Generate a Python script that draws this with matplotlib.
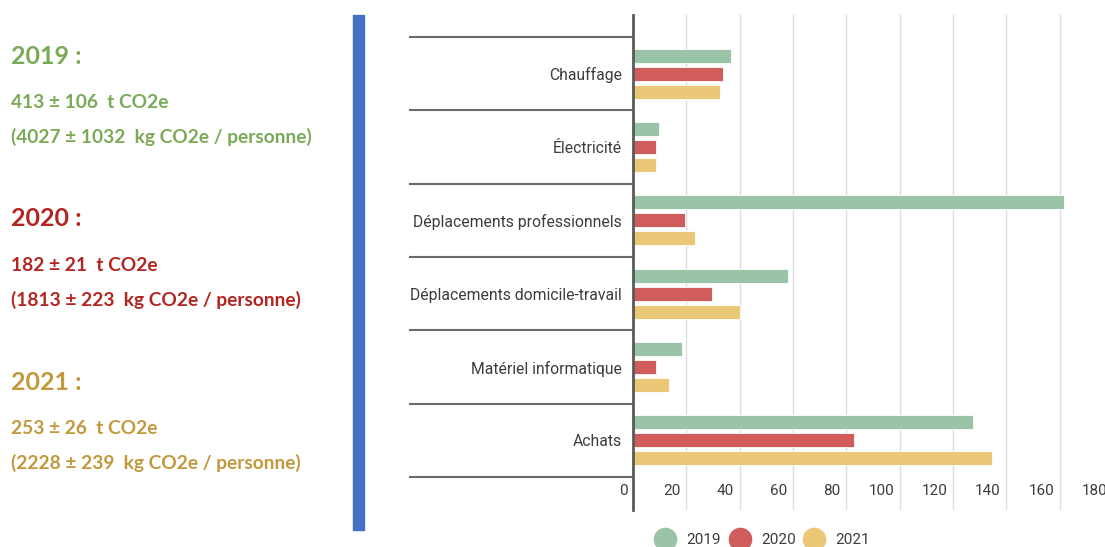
import matplotlib
matplotlib.use("Agg")
import matplotlib.pyplot as plt
from matplotlib.lines import Line2D
from matplotlib.patches import Rectangle
import matplotlib.transforms as mtransforms

categories = ["Chauffage", "Électricité", "Déplacements professionnels",
              "Déplacements domicile-travail", "Matériel informatique", "Achats"]
years = ["2019", "2020", "2021"]
v2019 = [36.6, 9.6, 161.7, 58.3, 18.5, 127.5]
v2020 = [33.7, 8.6, 19.5, 29.8, 8.6, 82.8]
v2021 = [32.5, 8.6, 23.4, 40.3, 13.5, 134.7]
series = [v2019, v2020, v2021]
bar_colors = ["#9AC4A8", "#D05C5C", "#EAC877"]
xticks = [0, 20, 40, 60, 80, 100, 120, 140, 160, 180]

summary_titles = ["2019 :", "2020 :", "2021 :"]
summary_totals = ["413 ± 106  t CO2e", "182 ± 21  t CO2e", "253 ± 26  t CO2e"]
summary_per_person = ["(4027 ± 1032  kg CO2e / personne)",
                      "(1813 ± 223  kg CO2e / personne)",
                      "(2228 ± 239  kg CO2e / personne)"]
summary_colors = ["#7BAA56", "#B32520", "#C1993B"]

W, H = 1105, 547
fig = plt.figure(figsize=(W / 100, H / 100), dpi=100)

# --- bar chart -------------------------------------------------------------
x0_px, x1_px = 633, 633 + 180 * 2.666
y_top_px, y_bot_px = 15, 510
ax = fig.add_axes([x0_px / W, 1 - y_bot_px / H, (x1_px - x0_px) / W,
                   (y_bot_px - y_top_px) / H])
ax.set_xlim(0, 180)
ax.set_ylim(5.95, -0.8)

bar_h = 0.19
pitch = 0.245
for k, (vals, col) in enumerate(zip(series, bar_colors)):
    ypos = [i + (k - 1) * pitch for i in range(len(categories))]
    ax.barh(ypos, vals, height=bar_h, color=col, edgecolor="white",
            linewidth=0.6, zorder=3)

for s in ["top", "right", "bottom"]:
    ax.spines[s].set_visible(False)
ax.spines["left"].set_color("#5a5a5a")
ax.spines["left"].set_linewidth(2)
ax.spines["left"].set_zorder(5)

for v in xticks[1:]:
    ax.axvline(v, color="#dddddd", lw=1, zorder=1)
ax.set_xticks([])

# category separators extending to the left of the axis
trans = mtransforms.blended_transform_factory(ax.transAxes, ax.transData)
left_frac = (410 - x0_px) / (x1_px - x0_px)
for j in range(len(categories) + 1):
    ax.plot([left_frac, 0], [j - 0.5, j - 0.5], transform=trans,
            color="#6a6a6a", lw=1.5, clip_on=False, zorder=4)

ax.set_yticks(range(len(categories)))
ax.set_yticklabels(categories, fontfamily="Roboto", fontsize=11.3,
                   color="#3c3c3c")
ax.tick_params(axis="y", length=0, pad=8)

# value axis labels sit just left of each gridline
for v in xticks:
    ax.annotate(str(v), xy=(v, 5.69), xytext=(-4, 0),
                textcoords="offset points", ha="right", va="center",
                fontfamily="Roboto", fontsize=11, color="#3c3c3c",
                annotation_clip=False)

handles = [Line2D([], [], marker="o", linestyle="none", markersize=16,
                  markerfacecolor=c, markeredgecolor=c) for c in bar_colors]
fig.legend(handles, years, loc="center", bbox_to_anchor=(760 / W, 1 - 540 / H),
           ncol=3, frameon=False, handletextpad=0.4, columnspacing=0.2,
           prop={"family": "Roboto", "size": 11}, labelcolor="#3c3c3c")

# --- summary panel ---------------------------------------------------------
fig.add_artist(Rectangle((353 / W, 1 - 530 / H), 11 / W, 515 / H,
                         transform=fig.transFigure, color="#4472C4"))

title_y = [57, 219, 383]
total_y = [102, 265, 428]
person_y = [137, 300, 463]
for t, tot, per, c, ty, oy, py in zip(summary_titles, summary_totals,
                                       summary_per_person, summary_colors,
                                       title_y, total_y, person_y):
    fig.text(11 / W, 1 - ty / H, t, color=c, fontfamily="Lato",
             fontweight="bold", fontsize=18, va="center", ha="left")
    fig.text(11 / W, 1 - oy / H, tot, color=c, fontfamily="Lato",
             fontweight="bold", fontsize=13.8, va="center", ha="left")
    fig.text(11 / W, 1 - py / H, per, color=c, fontfamily="Lato",
             fontweight="bold", fontsize=13.8, va="center", ha="left")

fig.savefig("out.png", dpi=100)
